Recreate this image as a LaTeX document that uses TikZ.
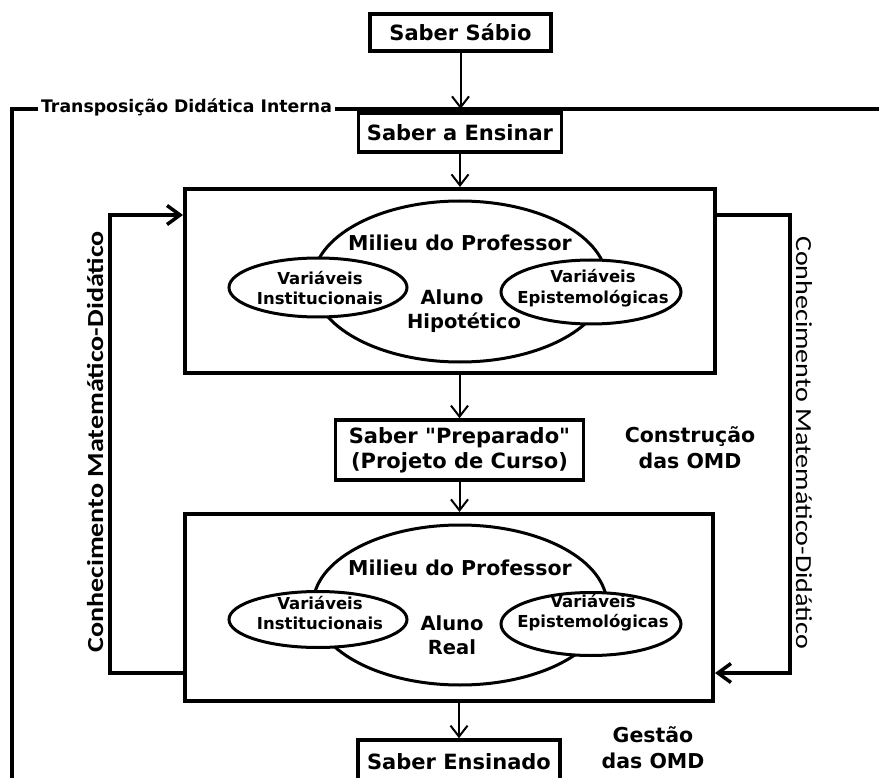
\documentclass[tikz,border=0pt]{standalone}
\usepackage{fontspec}
\setmainfont{DejaVu Sans}
\newfontfamily\dvs{DejaVu Sans}
\newfontfamily\carl[FakeStretch=1.22]{Carlito}
\usetikzlibrary{arrows.meta,shapes.geometric}
\tikzset{
  bx/.style={draw, line width=3.5pt, fill=white, inner sep=0pt, align=center,
    font=\bfseries\fontsize{21}{25}\selectfont},
  bigbox/.style={draw, line width=4pt, inner sep=0pt},
  ell/.style={draw, ellipse, line width=3pt, fill=white, inner sep=0pt},
  lbl/.style={inner sep=0pt, align=center, font=\bfseries\fontsize{20.5}{26}\selectfont},
  mil/.style={inner sep=0pt, font=\bfseries\fontsize{20.5}{24}\selectfont},
  var/.style={inner sep=0pt, align=center, font=\bfseries\fontsize{16.5}{20.5}\selectfont},
  aln/.style={inner sep=0pt, font=\bfseries\fontsize{19.5}{24}\selectfont},
  arr/.style={line width=2pt, -{Straight Barb[length=11pt,width=17pt,line width=2pt]}},
  conn/.style={line width=4.5pt, -{Straight Barb[length=13pt,width=19pt,line width=3.5pt]}},
  frame/.style={line width=4pt}
}
\begin{document}
\begin{tikzpicture}[x=1pt,y=-1pt]
\useasboundingbox (0,0) rectangle (879,778);
\clip (0,0) rectangle (879,778);

% frame of the internal transposition
\draw[frame] (885,109) -- (12,109) -- (12,790);
\node[fill=white, inner sep=3pt, font=\bfseries\fontsize{17.3}{20}\selectfont] (tdi) at (186.5,107.5) {Transposição Didática Interna};

% boxes
\node[bx, minimum width=181pt, minimum height=37pt] (sabio) at (460.5,32.5) {Saber Sábio};
\node[bx, minimum width=203pt, minimum height=39pt] (ensinar) at (460,132.5) {Saber a Ensinar};
\node[bigbox, minimum width=530pt, minimum height=184pt] (mc1) at (450,281) {};
\node[bx, minimum width=248pt, minimum height=60pt, font=\dvs\bfseries\fontsize{21}{25}\selectfont] (prep) at (459.5,450) {Saber "Preparado"\\(Projeto de Curso)};
\node[bigbox, minimum width=528pt, minimum height=187pt] (mc2) at (449,607.5) {};
\node[bx, minimum width=202pt, minimum height=44pt] (ensinado) at (459,762) {Saber Ensinado};

% upper milieu
\node[ell, minimum width=294pt, minimum height=161pt] (m1) at (460,281.5) {};
\node[ell, minimum width=178pt, minimum height=59pt] (vi1) at (318,287.5) {};
\node[ell, minimum width=180pt, minimum height=64pt] (ve1) at (591,292) {};
\node[mil] (mt1) at (460,243) {Milieu do Professor};
\node[var] (vit1) at (320,288) {Variáveis\\Institucionais};
\node[var] (vet1) at (593,288) {Variáveis\\Epistemológicas};
\node[aln] (al1) at (452,297) {Aluno};
\node[aln] (hp1) at (464,323) {Hipotético};

% lower milieu
\node[ell, minimum width=294pt, minimum height=160pt] (m2) at (460,605) {};
\node[ell, minimum width=178pt, minimum height=56pt] (vi2) at (318,619.5) {};
\node[ell, minimum width=180pt, minimum height=63pt] (ve2) at (591,624) {};
\node[mil] (mt2) at (460,568) {Milieu do Professor};
\node[var] (vit2) at (320,613) {Variáveis\\Institucionais};
\node[var] (vet2) at (593,612.5) {Variáveis\\Epistemológicas};
\node[aln] (al2) at (452,623) {Aluno};
\node[aln] (rl2) at (452,647) {Real};

% side texts
\node[lbl] (constr) at (690,448) {Construção\\das OMD};
\node[lbl] (gest) at (653,748) {Gestão\\das OMD};

% vertical arrows
\coordinate (tl) at (460.5,109);
\draw[arr] (sabio.south) -- (tl);
\draw[arr] (ensinar.south) -- (ensinar.south |- mc1.north);
\draw[arr] (mc1.south -| prep.north) -- (prep.north);
\draw[arr] (prep.south) -- (prep.south |- mc2.north);
\draw[arr] (mc2.south -| ensinado.north) -- (ensinado.north);

% feedback connectors
\coordinate (lt) at (110,215);
\coordinate (lb) at (110,673);
\coordinate (rt) at (790,215);
\coordinate (rb) at (790,673);
\draw[conn] (mc2.west |- lb) -- (lb) -- (lt) -- (mc1.west |- lt);
\draw[conn] (mc1.east |- rt) -- (rt) -- (rb) -- (mc2.east |- rb);
\node[rotate=90, inner sep=0pt, font=\carl\bfseries\fontsize{23}{26}\selectfont] (cml) at (95,442) {Conhecimento Matemático-Didático};
\node[rotate=-90, inner sep=0pt, font=\carl\fontsize{23}{26}\selectfont] (cmr) at (804,442.5) {Conhecimento Matemático-Didático};
\end{tikzpicture}
\end{document}
